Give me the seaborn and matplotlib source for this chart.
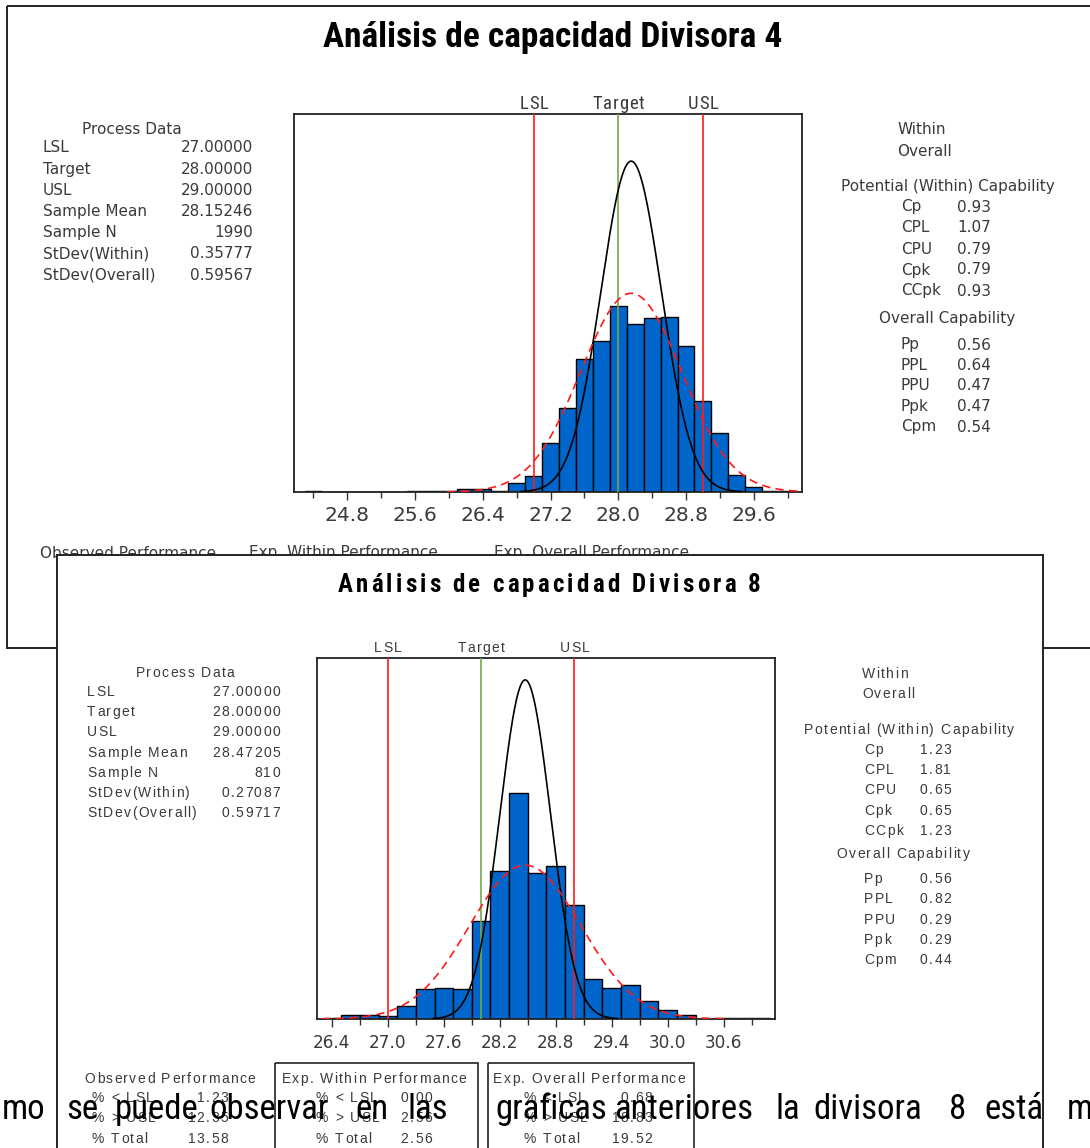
import numpy as np
import pandas as pd
import matplotlib
matplotlib.use("Agg")
import matplotlib.pyplot as plt
import seaborn as sns
from matplotlib import font_manager as fm
from matplotlib.font_manager import FontProperties
from matplotlib.patches import Rectangle

# ---------------- data ----------------
LSL, TARGET, USL = 27.0, 28.0, 29.0
BIN_W = 0.2

d4_title = "Análisis de capacidad Divisora 4"
d4_centers = [24.4, 25.6, 25.8, 26.0, 26.2, 26.4, 26.6, 26.8, 27.0, 27.2, 27.4, 27.6,
              27.8, 28.0, 28.2, 28.4, 28.6, 28.8, 29.0, 29.2, 29.4, 29.6, 29.8, 30.0]
d4_counts = [2, 1, 1, 1, 4, 4, 2, 12, 21, 66, 113, 178,
             203, 250, 226, 234, 235, 196, 122, 79, 23, 7, 2, 1]
d4_mean, d4_sw, d4_so, d4_n = 28.15246, 0.35777, 0.59567, 1990
d4_ticks = [24.8, 25.6, 26.4, 27.2, 28.0, 28.8, 29.6]
d4_tick_labels = ["24.8", "25.6", "26.4", "27.2", "28.0", "28.8", "29.6"]
d4_pd_values = ["27.00000", "28.00000", "29.00000", "28.15246", "1990", "0.35777", "0.59567"]
d4_pot_values = ["0.93", "1.07", "0.79", "0.79", "0.93"]
d4_ov_values = ["0.56", "0.64", "0.47", "0.47", "0.54"]

d8_title = "Análisis de capacidad Divisora 8"
d8_centers = [26.4, 26.6, 26.8, 27.0, 27.2, 27.4, 27.6, 27.8, 28.0, 28.2, 28.4, 28.6,
              28.8, 29.0, 29.2, 29.4, 29.6, 29.8, 30.0, 30.2, 30.4, 30.6, 30.8, 31.0]
d8_counts = [1, 3, 3, 2, 9, 21, 22, 21, 69, 104, 159, 103,
             108, 80, 28, 22, 24, 13, 6, 3, 0, 1, 1, 1]
d8_mean, d8_sw, d8_so, d8_n = 28.47205, 0.27087, 0.59717, 810
d8_ticks = [26.4, 27.0, 27.6, 28.2, 28.8, 29.4, 30.0, 30.6]
d8_tick_labels = ["26.4", "27.0", "27.6", "28.2", "28.8", "29.4", "30.0", "30.6"]
d8_pd_values = ["27.00000", "28.00000", "29.00000", "28.47205", "810", "0.27087", "0.59717"]
d8_pot_values = ["1.23", "1.81", "0.65", "0.65", "1.23"]
d8_ov_values = ["0.56", "0.82", "0.29", "0.29", "0.44"]
d8_obs_values = ["1.23", "12.35", "13.58"]
d8_within_values = ["0.00", "2.56", "2.56"]
d8_overall_values = ["0.68", "18.83", "19.52"]

pd_labels = ["LSL", "Target", "USL", "Sample Mean", "Sample N", "StDev(Within)", "StDev(Overall)"]
pot_labels = ["Cp", "CPL", "CPU", "Cpk", "CCpk"]
ov_labels = ["Pp", "PPL", "PPU", "Ppk", "Cpm"]
perf_labels = ["% < LSL", "% > USL", "% Total"]
perf_headers = ["Observed Performance", "Exp. Within Performance", "Exp. Overall Performance"]

body_words = ["mo", "se", "puede", "observar", "en", "las", "graficas", "anteriores",
              "la", "divisora", "8", "está", "m"]

# ---------------- fonts ----------------
sns.set_theme(style="white")
fams = {f.name for f in fm.fontManager.ttflist}
def pick(*cands):
    for c in cands:
        if c in fams:
            return c
    return "DejaVu Sans"
NARROW = pick("Liberation Sans Narrow", "DejaVu Sans Condensed", "Roboto Condensed", "Liberation Sans")
ARIAL = pick("Liberation Sans", "Arimo", "DejaVu Sans")
STAT = "DejaVu Sans"
plt.rcParams["font.family"] = ["DejaVu Sans"]

W, H = 1090, 1148
fig = plt.figure(figsize=(W / 100, H / 100), dpi=100)
fig.patch.set_facecolor("white")
renderer = fig.canvas.get_renderer()

def full_axes(z):
    a = fig.add_axes([0, 0, 1, 1], zorder=z)
    a.set_xlim(0, W)
    a.set_ylim(H, 0)
    a.axis("off")
    a.patch.set_alpha(0)
    return a

def ax_at(x0, y0, x1, y1, z):
    return fig.add_axes([x0 / W, 1 - y1 / H, (x1 - x0) / W, (y1 - y0) / H], zorder=z)

TXT = "#3a3a3a"
BLUE = "#0066cc"
GREEN = "#72a84a"

def spaced(ax, x, y, s, size, family, weight="normal", track=0.0, ha="left", color=TXT):
    """Letter-spaced text (characters placed one by one)."""
    fp = FontProperties(family=family, size=size, weight=weight)
    ref = renderer.get_text_width_height_descent("||", fp, ismath=False)[0]
    widths = []
    for ch in s:
        w = renderer.get_text_width_height_descent("|" + ch + "|", fp, ismath=False)[0] - ref
        widths.append(w)
    total = sum(widths) + track * (len(s) - 1)
    if ha == "center":
        x0 = x - total / 2
    elif ha == "right":
        x0 = x - total
    else:
        x0 = x
    for ch, w in zip(s, widths):
        if ch != " ":
            ax.text(x0, y, ch, ha="left", va="center", fontproperties=fp, color=color)
        x0 += w + track

def draw_hist(ax, centers, counts, mean, sw, so, n, xlim, ylim_top, ticks, tlabels,
              minor_off, tick_fs, pad):
    df = pd.DataFrame({"value": centers, "count": counts})
    lo = min(centers) - BIN_W / 2
    nb = int(round((max(centers) - min(centers)) / BIN_W)) + 1
    edges = [round(lo + i * BIN_W, 2) for i in range(nb + 1)]
    kw = dict(data=df, x="value", weights="count", stat="count", ax=ax, color=BLUE,
              edgecolor="black", linewidth=1.0, alpha=1.0, zorder=2)
    try:
        sns.histplot(bins=edges, **kw)
    except Exception:
        for p in list(ax.patches):
            p.remove()
        sns.histplot(binwidth=BIN_W, binrange=(edges[0], edges[-1]), **kw)
    # fitted normal curves (expected count per bin)
    for sd, col, ls in [(sw, "black", "-"), (so, "#ff1a1a", (0, (5, 3.2)))]:
        xs = np.linspace(mean - 3.65 * sd, mean + 3.65 * sd, 400)
        ys = n * BIN_W * np.exp(-0.5 * ((xs - mean) / sd) ** 2) / (sd * np.sqrt(2 * np.pi))
        sns.lineplot(x=xs, y=ys, ax=ax, color=col, linewidth=1.2, linestyle=ls, zorder=4)
    for v, c in [(LSL, "#ff1a1a"), (TARGET, GREEN), (USL, "#ff1a1a")]:
        ax.axvline(v, color=c, linewidth=1.2, zorder=3)
    ax.set_xticks(ticks)
    ax.set_xticklabels(tlabels)
    minors = [t + minor_off for t in ticks] + [ticks[0] - minor_off]
    ax.set_xticks([m for m in minors if xlim[0] < m < xlim[1]], minor=True)
    ax.set_yticks([])
    ax.set_xlim(*xlim)
    ax.set_ylim(0, ylim_top)
    ax.set_xlabel("")
    ax.set_ylabel("")
    ax.tick_params(axis="x", which="major", direction="out", length=6, width=1.0,
                   color="#333333", labelsize=tick_fs, labelcolor=TXT, pad=pad, bottom=True)
    ax.tick_params(axis="x", which="minor", direction="out", length=4.5, width=1.0,
                   color="#333333", bottom=True)
    for s in ax.spines.values():
        s.set_visible(True)
        s.set_color("#222222")
        s.set_linewidth(1.3)
    ax.set_facecolor("white")
    ax.grid(False)

def spec_labels(overlay, box_x0, box_x1, xlim, y, size, family, track):
    for v, s in [(LSL, "LSL"), (TARGET, "Target"), (USL, "USL")]:
        px = box_x0 + (v - xlim[0]) / (xlim[1] - xlim[0]) * (box_x1 - box_x0)
        spaced(overlay, px, y, s, size, family, track=track, ha="center")

# ================= TOP CHART (Divisora 4) =================
bg = full_axes(0)
bg.add_patch(Rectangle((7, 6), W + 20, 642, fill=False, ec="#222222", lw=1.4))
bg.text(553, 37, d4_title, ha="center", va="center", fontsize=25.5, fontweight="bold",
        family=NARROW, color="black")

fs4 = 11
bg.text(132, 129, "Process Data", ha="center", va="center", fontsize=fs4, color=TXT, family=STAT)
for i, (lab, val) in enumerate(zip(pd_labels, d4_pd_values)):
    y = 148 + i * 21.2
    bg.text(43, y, lab, ha="left", va="center", fontsize=fs4, color=TXT, family=STAT)
    bg.text(253, y, val, ha="right", va="center", fontsize=fs4, color=TXT, family=STAT)

bg.text(897, 130, "Within", ha="left", va="center", fontsize=fs4, color=TXT, family=STAT)
bg.text(897, 152, "Overall", ha="left", va="center", fontsize=fs4, color=TXT, family=STAT)
bg.text(948, 186, "Potential (Within) Capability", ha="center", va="center", fontsize=fs4,
        color=TXT, family=STAT)
for i, (lab, val) in enumerate(zip(pot_labels, d4_pot_values)):
    y = 207 + i * 21
    bg.text(901, y, lab, ha="left", va="center", fontsize=fs4, color=TXT, family=STAT)
    bg.text(957, y, val, ha="left", va="center", fontsize=fs4, color=TXT, family=STAT)
bg.text(947, 318, "Overall Capability", ha="center", va="center", fontsize=fs4, color=TXT, family=STAT)
for i, (lab, val) in enumerate(zip(ov_labels, d4_ov_values)):
    y = 345 + i * 20.5
    bg.text(901, y, lab, ha="left", va="center", fontsize=fs4, color=TXT, family=STAT)
    bg.text(957, y, val, ha="left", va="center", fontsize=fs4, color=TXT, family=STAT)

for x, h in zip([40, 249, 494], perf_headers):
    bg.text(x, 553, h, ha="left", va="center", fontsize=fs4, color=TXT, family=STAT)

xl4 = (24.17, 30.17)
ax1 = ax_at(294, 114, 802, 492, 1)
draw_hist(ax1, d4_centers, d4_counts, d4_mean, d4_sw, d4_so, d4_n,
          xl4, 507, d4_ticks, d4_tick_labels, 0.4, 14.5, 4)
spec_labels(bg, 294, 802, xl4, 104, 13.5, NARROW, 0.8)

# ================= BOTTOM CHART (Divisora 8) =================
fg = full_axes(2)
fg.add_patch(Rectangle((57, 555), 986, 700, fc="white", ec="#222222", lw=1.4))
spaced(fg, 549, 585, d8_title, 18, NARROW, weight="bold", track=3.2, ha="center", color="black")

fs8 = 10
TR = 1.4
spaced(fg, 185, 673, "Process Data", fs8, ARIAL, track=TR, ha="center")
for i, (lab, val) in enumerate(zip(pd_labels, d8_pd_values)):
    y = 692 + i * 20.2
    spaced(fg, 87, y, lab, fs8, ARIAL, track=TR, ha="left")
    spaced(fg, 280, y, val, fs8, ARIAL, track=TR, ha="right")

spaced(fg, 862, 674, "Within", fs8, ARIAL, track=TR)
spaced(fg, 862, 694, "Overall", fs8, ARIAL, track=TR)
spaced(fg, 909, 730, "Potential (Within) Capability", fs8, ARIAL, track=TR, ha="center")
for i, (lab, val) in enumerate(zip(pot_labels, d8_pot_values)):
    y = 750 + i * 20.2
    spaced(fg, 864, y, lab, fs8, ARIAL, track=TR)
    spaced(fg, 920, y, val, fs8, ARIAL, track=TR)
spaced(fg, 903, 854, "Overall Capability", fs8, ARIAL, track=TR, ha="center")
for i, (lab, val) in enumerate(zip(ov_labels, d8_ov_values)):
    y = 879 + i * 20.3
    spaced(fg, 864, y, lab, fs8, ARIAL, track=TR)
    spaced(fg, 920, y, val, fs8, ARIAL, track=TR)

# performance boxes
fg.add_patch(Rectangle((275, 1063), 203, 200, fill=False, ec="#222222", lw=1.2))
fg.add_patch(Rectangle((488, 1063), 206, 200, fill=False, ec="#222222", lw=1.2))
perf_cols = [(170, 92, 228, d8_obs_values),
             (374, 316, 432, d8_within_values),
             (589, 524, 652, d8_overall_values)]
for (cx, lx, rx, vals), head in zip(perf_cols, perf_headers):
    spaced(fg, cx, 1079, head, fs8, ARIAL, track=TR, ha="center")
    for i, (lab, val) in enumerate(zip(perf_labels, vals)):
        y = 1098 + i * 20.5
        spaced(fg, lx, y, lab, fs8, ARIAL, track=TR)
        spaced(fg, rx, y, val, fs8, ARIAL, track=TR, ha="right")

xl8 = (26.24, 31.15)
ax2 = ax_at(317, 658, 775, 1019, 3)
draw_hist(ax2, d8_centers, d8_counts, d8_mean, d8_sw, d8_so, d8_n,
          xl8, 254, d8_ticks, d8_tick_labels, 0.3, 12.2, 5)
spec_labels(fg, 317, 775, xl8, 648, 10, ARIAL, TR)

# ================= document body text on top =================
top = full_axes(5)
word_x = [2, 66, 115, 209, 355, 407, 495, 614, 775, 813, 949, 984, 1067]
for x, w in zip(word_x, body_words):
    top.text(x, 1119, w, ha="left", va="baseline", fontsize=25, color="black", family=NARROW)

fig.savefig("out.png", dpi=100, facecolor="white")
